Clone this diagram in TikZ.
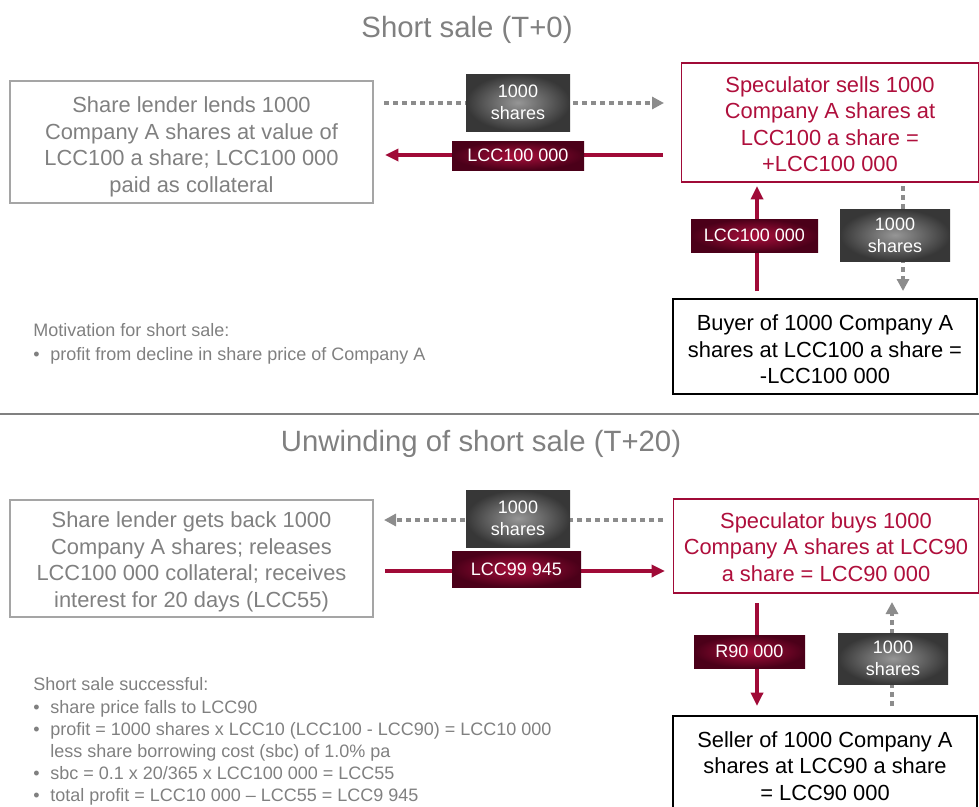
\documentclass[tikz,border=0pt]{standalone}
\usepackage{fontspec}
\setmainfont{Liberation Sans}
\usetikzlibrary{arrows.meta}
\definecolor{crim}{RGB}{160,10,55}
\definecolor{crimtxt}{RGB}{175,15,60}
\definecolor{gtxt}{RGB}{128,128,128}
\definecolor{gbord}{RGB}{165,165,165}
\definecolor{garrow}{RGB}{140,140,140}
\tikzset{
  px/.style={x=0.75pt,y=-0.75pt},
  titletxt/.style={text=gtxt,font=\fontsize{22}{26}\selectfont},
  boxbase/.style={rectangle,align=center,inner sep=0pt,line width=0.9pt,font=\fontsize{16.4}{19.9}\selectfont},
  boxtxt/.style={rectangle,align=center,inner sep=0pt,font=\fontsize{16.4}{19.9}\selectfont},
  lendbox/.style={boxbase,draw=gbord,text=gtxt},
  specbox/.style={boxbase,draw=crim,text=crimtxt},
  cpbox/.style={boxbase,draw=black,text=black},
  greylab/.style={rectangle,align=center,inner sep=0pt,text=white,shading=radial,inner color={rgb,255:red,150;green,150;blue,150},outer color={rgb,255:red,55;green,55;blue,55},font=\fontsize{13.5}{16.5}\selectfont},
  crimlab/.style={rectangle,align=center,inner sep=0pt,text=white,shading=radial,inner color={rgb,255:red,170;green,15;blue,60},outer color={rgb,255:red,75;green,0;blue,25},font=\fontsize{13.5}{16.5}\selectfont},
  cash/.style={draw=crim,line width=2.6pt,-{Triangle[length=10pt,width=9pt]}},
  shr/.style={draw=garrow,line width=3.5pt,dash pattern=on 3.75pt off 3pt,-{Triangle[length=9pt,width=9pt]}},
  note/.style={text=gtxt,font=\fontsize{13.5}{16.5}\selectfont,inner sep=0pt,anchor=base west},
}
\begin{document}
\begin{tikzpicture}[px]
\useasboundingbox (0,0) rectangle (979,807);
% ---------- top section ----------
\node[titletxt] (t1) at (467,30) {Short sale (T+0)};
\node[lendbox,minimum width={363*0.75pt},minimum height={122*0.75pt}] (lend1) at (191.5,142) {};
\node[boxtxt,text=gtxt] (lend1t) at (191.5,147)
  {Share lender lends 1000\\Company A shares at value of\\LCC100 a share; LCC100 000\\paid as collateral};
\node[specbox,minimum width={297*0.75pt},minimum height={119*0.75pt}] (spec1) at (830,122.5) {};
\node[boxtxt,text=crimtxt] (spec1t) at (830,124)
  {Speculator sells 1000\\Company A shares at\\LCC100 a share =\\+LCC100 000};
\node[cpbox,minimum width={304*0.75pt},minimum height={95*0.75pt}] (buy1) at (825,346.5) {};
\node[boxtxt,text=black] (buy1t) at (825,349.5)
  {Buyer of 1000 Company A\\shares at LCC100 a share =\\-LCC100 000};

\coordinate (a1s) at (384,103);
\coordinate (a1e) at (664,103);
\coordinate (a2s) at (663,155);
\coordinate (a2e) at (385,155);
\coordinate (a3s) at (757,291);
\coordinate (a3e) at (757,186);
\coordinate (a4s) at (903,186);
\coordinate (a4e) at (903,291);
\draw[shr] (a1s) -- (a1e);
\draw[cash] (a2s) -- (a2e);
\draw[cash] (a3s) -- (a3e);
\draw[shr] (a4s) -- (a4e);
\node[greylab,minimum width={104*0.75pt},minimum height={57*0.75pt}] (g1) at (518,102.5) {1000\\shares};
\node[crimlab,minimum width={132*0.75pt},minimum height={29*0.75pt}] (r1) at (518,155.5) {LCC100 000};
\node[crimlab,minimum width={127*0.75pt},minimum height={33*0.75pt}] (r2) at (754.5,235.5) {LCC100 000};
\node[greylab,minimum width={110*0.75pt},minimum height={52*0.75pt}] (g2) at (895,235) {1000\\shares};

\node[note] (m1) at (33,336) {Motivation for short sale:};
\node[note] (m2b) at (33,360) {•};
\node[note] (m2) at (50,360) {profit from decline in share price of Company A};

\draw[draw=gtxt,line width=1.5pt] (0,414) -- (979,414);

% ---------- bottom section ----------
\node[titletxt] (t2) at (481,444) {Unwinding of short sale (T+20)};
\node[lendbox,minimum width={363*0.75pt},minimum height={117*0.75pt}] (lend2) at (191.5,558.5) {};
\node[boxtxt,text=gtxt] (lend2t) at (191.5,562)
  {Share lender gets back 1000\\Company A shares; releases\\LCC100 000 collateral; receives\\interest for 20 days (LCC55)};
\node[specbox,minimum width={305*0.75pt},minimum height={94*0.75pt}] (spec2) at (826,546) {};
\node[boxtxt,text=crimtxt] (spec2t) at (826,547)
  {Speculator buys 1000\\Company A shares at LCC90\\a share = LCC90 000};
\node[cpbox,minimum width={304*0.75pt},minimum height={94*0.75pt}] (sell2) at (825,763) {};
\node[boxtxt,text=black] (sell2t) at (825,766)
  {Seller of 1000 Company A\\shares at LCC90 a share\\= LCC90 000};

\coordinate (b1s) at (663,520);
\coordinate (b1e) at (384,520);
\coordinate (b2s) at (385,571);
\coordinate (b2e) at (665,571);
\coordinate (b3s) at (757,603);
\coordinate (b3e) at (757,706);
\coordinate (b4s) at (892,706);
\coordinate (b4e) at (892,602);
\draw[shr] (b1s) -- (b1e);
\draw[cash] (b2s) -- (b2e);
\draw[cash] (b3s) -- (b3e);
\draw[shr] (b4s) -- (b4e);
\node[greylab,minimum width={104*0.75pt},minimum height={57*0.75pt}] (g3) at (518,518.5) {1000\\shares};
\node[crimlab,minimum width={129*0.75pt},minimum height={36*0.75pt}] (r3) at (516.5,569) {LCC99 945};
\node[crimlab,minimum width={111*0.75pt},minimum height={33*0.75pt}] (r4) at (749.5,651.5) {R90 000};
\node[greylab,minimum width={110*0.75pt},minimum height={51*0.75pt}] (g4) at (893,658.5) {1000\\shares};

\node[note] (s1) at (33,690) {Short sale successful:};
\node[note] (s2b) at (33,713) {•};
\node[note] (s2) at (50,713) {share price falls to LCC90};
\node[note] (s3b) at (33,735) {•};
\node[note] (s3) at (50,735) {profit = 1000 shares x LCC10 (LCC100 - LCC90) = LCC10 000};
\node[note] (s4) at (50,757) {less share borrowing cost (sbc) of 1.0\% pa};
\node[note] (s5b) at (33,779) {•};
\node[note] (s5) at (50,779) {sbc = 0.1 x 20/365 x LCC100 000 = LCC55};
\node[note] (s6b) at (33,801) {•};
\node[note] (s6) at (50,801) {total profit = LCC10 000 – LCC55 = LCC9 945};
\end{tikzpicture}
\end{document}
